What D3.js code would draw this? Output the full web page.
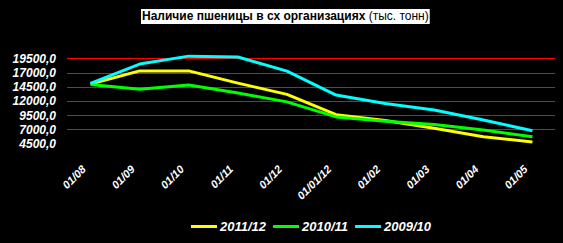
<!DOCTYPE html>
<html>
<head>
<meta charset="utf-8">
<script src="https://cdn.jsdelivr.net/npm/d3@7"></script>
<style>
  body { margin: 0; background: #000; }
  svg { display: block; }
</style>
</head>
<body>
<div id="chart-container"></div>
<script>
// data (тыс. тонн)
const months = ["01/08", "01/09", "01/10", "01/11", "01/12", "01/01/12", "01/02", "01/03", "01/04", "01/05"];
const s2011 = [15000, 17300, 17300, 15150, 13160, 9600, 8550, 7200, 5700, 4800];
const s2010 = [14900, 14050, 14800, 13400, 11850, 9200, 8450, 7850, 6900, 5700];
const s2009 = [15100, 18500, 19900, 19750, 17250, 13050, 11550, 10400, 8650, 6750];
const yTicks = [4500, 7000, 9500, 12000, 14500, 17000, 19500];
const seriesNames = ["2011/12", "2010/11", "2009/10"];

const width = 563, height = 243;
const font = "'Liberation Sans', Arial, sans-serif";

const svg = d3.select("#chart-container")
    .append("svg")
        .attr("width", width)
        .attr("height", height);

svg.append("rect")
    .attr("width", width)
    .attr("height", height)
    .attr("fill", "#000");

//Scales

const x = d3.scalePoint()
    .domain(months)
    .range([66, 557])
    .padding(0.5);

const y = d3.scaleLinear()
    .domain([4500, 19500])
    .range([143.6, 58.4]);

const colors = d3.scaleOrdinal()
    .domain(seriesNames)
    .range(["#ffff00", "#00ff00", "#00ffff"]);

//Gridlines (red)

svg.selectAll(".grid")
    .data(yTicks.slice(1))
    .join("line")
    .attr("class", "grid")
    .attr("x1", 67)
    .attr("x2", 555)
    .attr("y1", d => Math.round(y(d)) + 0.5)
    .attr("y2", d => Math.round(y(d)) + 0.5)
    .attr("stroke", "#ff0000")
    .attr("stroke-width", 1);

//Y axis labels

svg.append("g")
    .attr("transform", "translate(56,0)")
    .call(d3.axisLeft(y)
        .tickValues(yTicks)
        .tickFormat(d => d3.format(".1f")(d).replace(".", ","))
        .tickSize(0)
        .tickPadding(0))
    .call(g => g.select(".domain").remove())
    .selectAll(".tick text")
    .attr("fill", "#fff")
    .style("font-family", font)
    .style("font-size", "12px")
    .style("font-weight", "bold")
    .style("font-style", "italic");

//X axis labels, rotated

svg.append("g")
    .selectAll("text")
    .data(months)
    .join("text")
    .attr("transform", d => `translate(${x(d) - 4},170) rotate(-45)`)
    .attr("text-anchor", "end")
    .attr("fill", "#fff")
    .style("font-family", font)
    .style("font-size", "11px")
    .style("font-weight", "bold")
    .style("font-style", "italic")
    .text(d => d);

//Lines

const series = [
    { name: "2011/12", values: s2011 },
    { name: "2010/11", values: s2010 },
    { name: "2009/10", values: s2009 }
];

const line = d3.line()
    .x((d, i) => x(months[i]))
    .y(d => y(d));

svg.append("g")
    .selectAll("path")
    .data(series)
    .join("path")
    .attr("d", d => line(d.values))
    .attr("fill", "none")
    .attr("stroke", d => colors(d.name))
    .attr("stroke-width", 3)
    .attr("stroke-linejoin", "round");

//Title with white box

const titleBox = svg.append("rect")
    .attr("y", 9)
    .attr("height", 15)
    .attr("fill", "#fff");

const title = svg.append("text")
    .attr("x", 142)
    .attr("y", 20)
    .attr("fill", "#000")
    .style("font-family", font)
    .style("font-size", "12px");
title.append("tspan")
    .style("font-weight", "bold")
    .text("Наличие пшеницы в сх организациях");
title.append("tspan")
    .text(" (тыс. тонн)");

const tb = title.node().getBBox();
titleBox
    .attr("x", tb.x - 1)
    .attr("width", tb.width + 2);

//Legend

const legend = svg.append("g");
let lx = 191;
series.forEach(s => {
    legend.append("line")
        .attr("x1", lx)
        .attr("x2", lx + 26)
        .attr("y1", 226.5)
        .attr("y2", 226.5)
        .attr("stroke", colors(s.name))
        .attr("stroke-width", 3);
    const t = legend.append("text")
        .attr("x", lx + 29)
        .attr("y", 231)
        .attr("fill", "#fff")
        .style("font-family", font)
        .style("font-size", "13px")
        .style("font-weight", "bold")
        .style("font-style", "italic")
        .text(s.name);
    lx += 29 + t.node().getComputedTextLength() + 7;
});
</script>
</body>
</html>
